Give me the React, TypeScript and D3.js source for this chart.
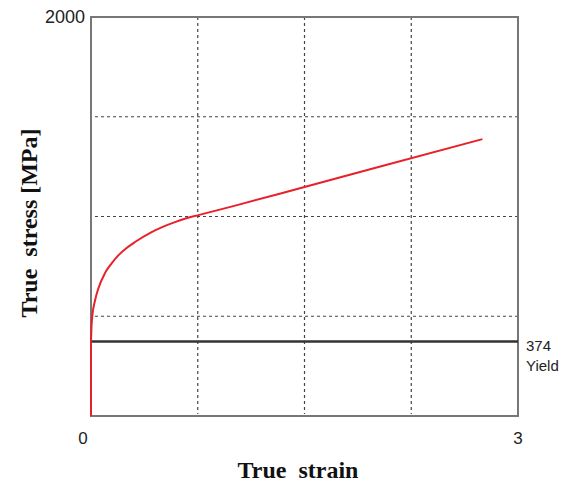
import { useEffect, useRef } from 'react';
import * as d3 from 'd3';

// strain / stress
const strain = [0, 0, 0.003, 0.009, 0.028, 0.051, 0.098, 0.145, 0.192, 0.25, 0.309, 0.426, 0.5, 0.59, 0.67, 0.754, 1.0, 1.5, 2.0, 2.75];
const stress = [0, 374, 440, 500, 578, 638, 716, 765, 805, 842, 872, 922, 947, 972, 991, 1007, 1052, 1148, 1244, 1388];
const xGrid = [0.75, 1.5, 2.25];
const yGrid = [500, 1000, 1500];
const yieldStress = 374;

const App = () => {
  const svgRef = useRef<SVGSVGElement>(null);

  useEffect(() => {
    const svg = d3.select(svgRef.current);
    svg.selectAll('*').remove();

    const margin = { top: 17, right: 56, bottom: 70, left: 91 };
    const width = 574;
    const height = 486;

    const x = d3.scaleLinear().domain([0, 3]).range([margin.left, width - margin.right]);
    const y = d3.scaleLinear().domain([0, 2000]).range([height - margin.bottom, margin.top]);

    const g = svg.append('g');

    // grid
    g.selectAll('.vgrid')
      .data(xGrid)
      .enter()
      .append('line')
      .attr('x1', d => x(d))
      .attr('x2', d => x(d))
      .attr('y1', y(2000))
      .attr('y2', y(0) - 2)
      .attr('stroke', '#444')
      .attr('stroke-width', 1.2)
      .attr('stroke-dasharray', '3,3');

    g.selectAll('.hgrid')
      .data(yGrid)
      .enter()
      .append('line')
      .attr('x1', x(0) + 4)
      .attr('x2', x(3))
      .attr('y1', d => y(d))
      .attr('y2', d => y(d))
      .attr('stroke', '#444')
      .attr('stroke-width', 1.2)
      .attr('stroke-dasharray', '3,3');

    // frame
    g.append('rect')
      .attr('x', x(0))
      .attr('y', y(2000))
      .attr('width', x(3) - x(0))
      .attr('height', y(0) - y(2000))
      .attr('fill', 'none')
      .attr('stroke', '#777')
      .attr('stroke-width', 2);

    // yield line
    g.append('line')
      .attr('x1', x(0))
      .attr('x2', x(3))
      .attr('y1', y(yieldStress))
      .attr('y2', y(yieldStress))
      .attr('stroke', '#333')
      .attr('stroke-width', 2.5);

    // curve
    const pts: [number, number][] = strain.map((s, i) => [s, stress[i]]);
    g.append('path')
      .datum(pts.slice(0, 2))
      .attr('d', d3.line<[number, number]>().x(d => x(d[0])).y(d => y(d[1])))
      .attr('fill', 'none')
      .attr('stroke', '#e8202a')
      .attr('stroke-width', 2);
    g.append('path')
      .datum(pts.slice(1))
      .attr('d', d3.line<[number, number]>().x(d => x(d[0])).y(d => y(d[1])).curve(d3.curveMonotoneX))
      .attr('fill', 'none')
      .attr('stroke', '#e8202a')
      .attr('stroke-width', 2);

    // tick labels
    const font = 'Arial, "Liberation Sans", sans-serif';
    g.append('text')
      .attr('x', x(0) - 6)
      .attr('y', y(2000) + 6)
      .attr('text-anchor', 'end')
      .attr('font-family', font)
      .attr('font-size', 18)
      .attr('fill', '#222')
      .text('2000');
    g.append('text')
      .attr('x', x(0) - 8)
      .attr('y', y(0) + 28)
      .attr('text-anchor', 'middle')
      .attr('font-family', font)
      .attr('font-size', 17)
      .attr('fill', '#222')
      .text('0');
    g.append('text')
      .attr('x', x(3))
      .attr('y', y(0) + 28)
      .attr('text-anchor', 'middle')
      .attr('font-family', font)
      .attr('font-size', 17)
      .attr('fill', '#222')
      .text('3');

    g.append('text')
      .attr('x', x(3) + 8)
      .attr('y', y(yieldStress) + 10)
      .attr('font-family', font)
      .attr('font-size', 15)
      .attr('fill', '#222')
      .text(String(yieldStress));
    g.append('text')
      .attr('x', x(3) + 8)
      .attr('y', y(yieldStress) + 30)
      .attr('font-family', font)
      .attr('font-size', 15)
      .attr('fill', '#222')
      .text('Yield');

    // axis titles
    const serif = '"Times New Roman", "Liberation Serif", serif';
    g.append('text')
      .attr('x', 298)
      .attr('y', 478)
      .attr('text-anchor', 'middle')
      .attr('font-family', serif)
      .attr('font-weight', 'bold')
      .attr('font-size', 24)
      .attr('fill', '#111')
      .style('white-space', 'pre')
      .text('True  strain');
    g.append('text')
      .attr('transform', 'translate(37, 223) rotate(-90)')
      .attr('text-anchor', 'middle')
      .attr('font-family', serif)
      .attr('font-weight', 'bold')
      .attr('font-size', 24)
      .attr('fill', '#111')
      .style('white-space', 'pre')
      .text('True  stress [MPa]');
  }, []);

  return (
    <svg
      ref={svgRef}
      width={574}
      height={486}
      style={{ position: 'absolute', left: 0, top: 0, background: '#fff' }}
    />
  );
};

export default App;
